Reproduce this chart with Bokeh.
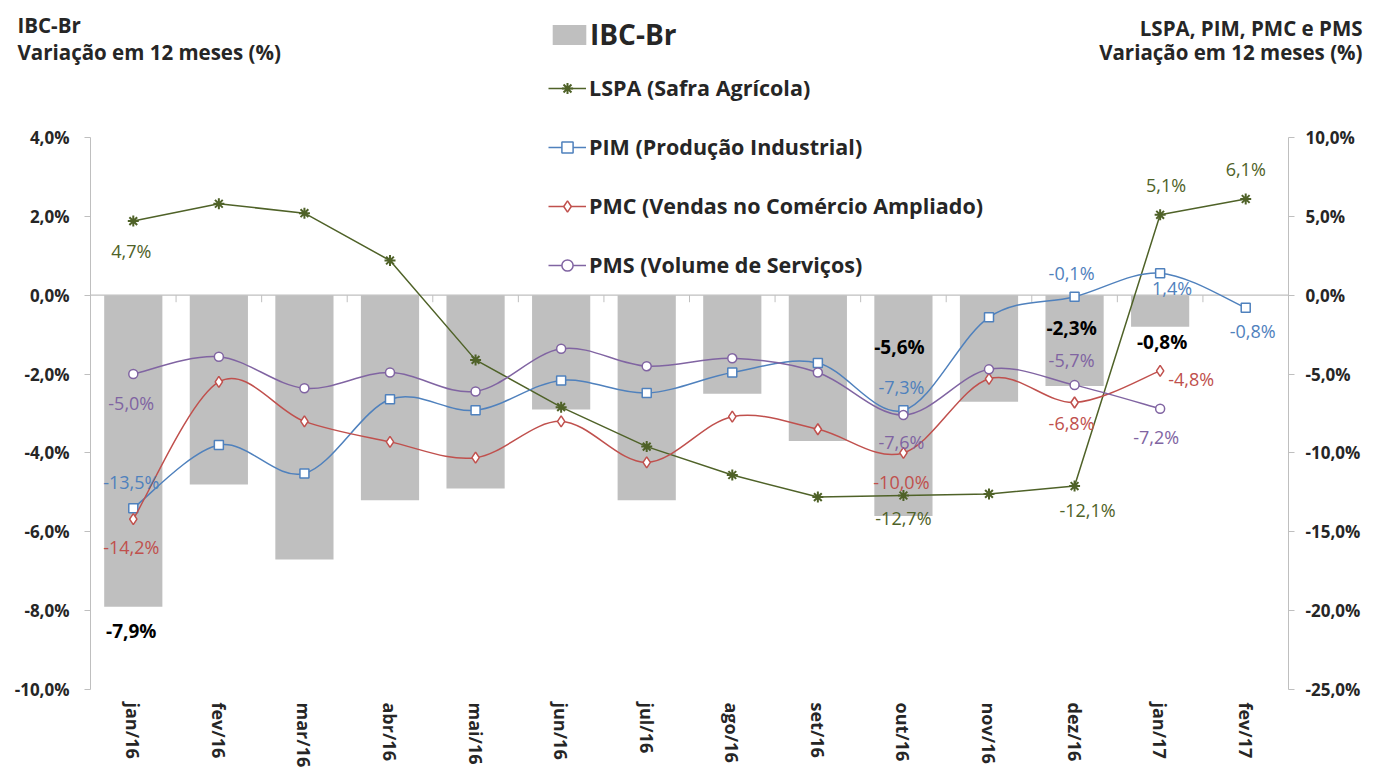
import math
from bokeh.plotting import figure
from bokeh.models import (Range1d, LinearAxis, FixedTicker, CustomJSTickFormatter,
                          Label, Legend, LegendItem, ColumnDataSource)
from bokeh.core.properties import value
from bokeh.embed import file_html
from bokeh.resources import INLINE

NaN = float("nan")

# ---------------- data ----------------
months = ["jan/16", "fev/16", "mar/16", "abr/16", "mai/16", "jun/16", "jul/16",
          "ago/16", "set/16", "out/16", "nov/16", "dez/16", "jan/17", "fev/17"]
ibc_br = [-7.9, -4.8, -6.7, -5.2, -4.9, -2.9, -5.2, -2.5, -3.7, -5.6, -2.7, -2.3, -0.8, NaN]
lspa = [4.7, 5.8, 5.2, 2.2, -4.1, -7.1, -9.6, -11.4, -12.8, -12.7, -12.6, -12.1, 5.1, 6.1]
pim = [-13.5, -9.5, -11.3, -6.6, -7.3, -5.4, -6.2, -4.9, -4.3, -7.3, -1.4, -0.1, 1.4, -0.8]
pmc = [-14.2, -5.5, -8.0, -9.3, -10.3, -8.0, -10.6, -7.7, -8.5, -10.0, -5.3, -6.8, -4.8, NaN]
pms = [-5.0, -3.9, -5.9, -4.9, -6.1, -3.4, -4.5, -4.0, -4.9, -7.6, -4.7, -5.7, -7.2, NaN]
left_ticks = [-10, -8, -6, -4, -2, 0, 2, 4]
right_ticks = [-25, -20, -15, -10, -5, 0, 5, 10]

# ---------------- style / layout ----------------
FONT = "Open Sans"
C_BAR = "#BFBFBF"
C_LSPA = "#4F6228"
C_PIM = "#4F81BD"
C_PMC = "#C0504D"
C_PMS = "#8064A2"
C_TXT = "#262626"
C_AX = "#BFBFBF"

W, H = 1365, 768
# pixel box of the drawn axes inside the canvas (the frame itself covers the whole canvas)
AX_L, AX_R, AX_T, AX_B = 90, 1288, 137, 689
n = len(months)
xs = list(range(1, n + 1))
PX_X = (AX_R - AX_L) / n
L_LO, L_HI = left_ticks[0], left_ticks[-1]
R_LO, R_HI = right_ticks[0], right_ticks[-1]
PX_L = (AX_B - AX_T) / (L_HI - L_LO)
PX_R = (AX_B - AX_T) / (R_HI - R_LO)

def px_x(px):   # canvas x pixel -> category coordinate
    return 0.5 + (px - AX_L) / PX_X

def px_y(py):   # canvas y pixel -> left-axis value
    return L_HI + (AX_T - py) / PX_L

p = figure(width=W, height=H, output_backend="svg", toolbar_location=None,
           x_range=Range1d(px_x(0), px_x(W)),
           y_range=Range1d(L_LO - (H - AX_B) / PX_L, L_HI + AX_T / PX_L),
           min_border=0, x_axis_location=None, y_axis_location=None)
p.extra_y_ranges = {"right": Range1d(R_LO - (H - AX_B) / PX_R, R_HI + AX_T / PX_R)}
p.outline_line_color = None
p.xgrid.visible = False
p.ygrid.visible = False
p.background_fill_color = "white"
p.border_fill_color = "white"

pct = CustomJSTickFormatter(code="return tick.toFixed(1).replace('.', ',') + '%';")

def style_y(ax):
    ax.axis_line_color = C_AX
    ax.major_tick_line_color = C_AX
    ax.major_tick_out = 6
    ax.major_tick_in = 0
    ax.minor_tick_line_color = None
    ax.major_label_text_font = FONT
    ax.major_label_text_font_style = "bold"
    ax.major_label_text_font_size = "17px"
    ax.major_label_text_color = C_TXT
    ax.formatter = pct

ly = LinearAxis(ticker=FixedTicker(ticks=left_ticks), bounds=(L_LO, L_HI),
                fixed_location=0.5)
style_y(ly)
ly.major_label_standoff = 15
p.add_layout(ly, "left")

ry = LinearAxis(y_range_name="right", ticker=FixedTicker(ticks=right_ticks),
                bounds=(R_LO, R_HI), fixed_location=n + 0.5)
style_y(ry)
ry.major_label_standoff = 11
p.add_layout(ry, "right")

xa = LinearAxis(ticker=FixedTicker(ticks=xs), fixed_location=L_LO,
                formatter=CustomJSTickFormatter(args=dict(labels=months),
                                                code="return labels[Math.round(tick) - 1];"))
xa.axis_line_color = None
xa.major_tick_line_color = None
xa.minor_tick_line_color = None
xa.major_label_orientation = -math.pi / 2
xa.major_label_text_font = FONT
xa.major_label_text_font_style = "bold"
xa.major_label_text_font_size = "18px"
xa.major_label_text_color = C_TXT
xa.major_label_standoff = 7
p.add_layout(xa, "below")

# bars
bars = p.vbar(x=xs, top=0, bottom=ibc_br, width=0.68, fill_color=C_BAR, line_color=None)
# zero line spanning the category axis, with small boundary ticks hanging from it
p.segment(x0=[xs[0] - 0.5], y0=[0], x1=[xs[-1] + 0.5], y1=[0], line_color=C_AX, line_width=1.2)
p.ray(x=[x + 0.5 for x in xs[:-1]], y=0, length=7, length_units="screen",
      angle=-math.pi / 2, line_color=C_AX, line_width=1)

# smooth-curve helper (Bezier segments through the data points)
def bezier_source(vals):
    pts = [(x, v) for x, v in zip(xs, vals) if not math.isnan(v)]
    m = len(pts)
    d = dict(x0=[], y0=[], x1=[], y1=[], cx0=[], cy0=[], cx1=[], cy1=[])
    for i in range(m - 1):
        pa = pts[i - 1] if i > 0 else pts[i]
        pb, pc = pts[i], pts[i + 1]
        pd = pts[i + 2] if i + 2 < m else pts[i + 1]
        d["x0"].append(pb[0]); d["y0"].append(pb[1])
        d["x1"].append(pc[0]); d["y1"].append(pc[1])
        d["cx0"].append(pb[0] + (pc[0] - pa[0]) / 6); d["cy0"].append(pb[1] + (pc[1] - pa[1]) / 6)
        d["cx1"].append(pc[0] - (pd[0] - pb[0]) / 6); d["cy1"].append(pc[1] - (pd[1] - pb[1]) / 6)
    return ColumnDataSource(d)

# LSPA: straight line with asterisks
lspa_line = p.line(xs, lspa, line_color=C_LSPA, line_width=1.5, y_range_name="right")
lspa_mk = p.scatter(xs, lspa, marker="asterisk", size=11, line_color=C_LSPA, line_width=2,
                    y_range_name="right")

smooth = []
for vals, col, mk in [(pim, C_PIM, "square"), (pmc, C_PMC, "diamond"), (pms, C_PMS, "circle")]:
    p.bezier(x0="x0", y0="y0", x1="x1", y1="y1", cx0="cx0", cy0="cy0", cx1="cx1", cy1="cy1",
             source=bezier_source(vals), line_color=col, line_width=1.5, y_range_name="right")
    # legend-only line sample (draws nothing in the plot)
    proxy = p.line(x=xs, y=[NaN] * n, line_color=col, line_width=1.5, y_range_name="right")
    sz = 9 if mk == "square" else (11 if mk == "diamond" else 9)
    mkr = p.scatter(xs, vals, marker=mk, size=sz, fill_color="white", line_color=col,
                    line_width=1.5, y_range_name="right")
    smooth.append((proxy, mkr))

# data labels: (series, index, dx, dy, color, range, bold, align)
def fmt(v):
    return ("%.1f" % v).replace(".", ",") + "%"

label_specs = [
    (lspa, 0, -2, 30, C_LSPA, "right", False, "center"),
    (lspa, 9, 0, 22, C_LSPA, "right", False, "center"),
    (lspa, 11, 13, 24, C_LSPA, "right", False, "center"),
    (lspa, 12, 6, -30, C_LSPA, "right", False, "center"),
    (lspa, 13, 0, -30, C_LSPA, "right", False, "center"),
    (pim, 0, -2, -26, C_PIM, "right", False, "center"),
    (pim, 9, -2, -23, C_PIM, "right", False, "center"),
    (pim, 11, -3, -24, C_PIM, "right", False, "center"),
    (pim, 12, 12, 15, C_PIM, "right", False, "center"),
    (pim, 13, 7, 23, C_PIM, "right", False, "center"),
    (pmc, 0, -2, 28, C_PMC, "right", False, "center"),
    (pmc, 9, -2, 29, C_PMC, "right", False, "center"),
    (pmc, 11, -3, 21, C_PMC, "right", False, "center"),
    (pmc, 12, 8, 8, C_PMC, "right", False, "left"),
    (pms, 0, -2, 29, C_PMS, "right", False, "center"),
    (pms, 9, -2, 27, C_PMS, "right", False, "center"),
    (pms, 11, -3, -25, C_PMS, "right", False, "center"),
    (pms, 12, -4, 28, C_PMS, "right", False, "center"),
    (ibc_br, 0, -2, 24, "#000000", "default", True, "center"),
    (ibc_br, 9, -4, -169, "#000000", "default", True, "center"),
    (ibc_br, 11, -3, -58, "#000000", "default", True, "center"),
    (ibc_br, 12, 2, 15, "#000000", "default", True, "center"),
]
for vals, i, dx, dy, col, rng, bold, align in label_specs:
    p.text(x=[xs[i]], y=[vals[i]], text=[fmt(vals[i])], x_offset=dx, y_offset=dy,
           text_align=align, text_baseline="middle", text_font=value(FONT),
           text_font_size="19px" if bold else "18px", text_color=col,
           text_font_style="bold" if bold else "normal", y_range_name=rng)

# legends (location = lower-left corner, in pixels from the canvas' lower-left)
leg1 = Legend(items=[LegendItem(label="IBC-Br", renderers=[bars])], location=(548, 715),
              orientation="vertical", padding=0, margin=0, border_line_alpha=0,
              background_fill_alpha=0, glyph_width=42, glyph_height=25, label_height=25,
              label_standoff=0, label_text_font=FONT, label_text_font_style="bold",
              label_text_font_size="28px", label_text_color=C_TXT)
leg2 = Legend(items=[
    LegendItem(label="LSPA (Safra Agrícola)", renderers=[lspa_line, lspa_mk]),
    LegendItem(label="PIM (Produção Industrial)", renderers=list(smooth[0])),
    LegendItem(label="PMC (Vendas no Comércio Ampliado)", renderers=list(smooth[1])),
    LegendItem(label="PMS (Volume de Serviços)", renderers=list(smooth[2])),
], location=(548, 489), orientation="vertical", padding=0, margin=0, border_line_alpha=0,
    background_fill_alpha=0, glyph_width=38, glyph_height=28, label_height=28, spacing=30,
    label_standoff=3, label_text_font=FONT, label_text_font_style="bold",
    label_text_font_size="21.5px", label_text_color=C_TXT)
p.add_layout(leg1, "center")
p.add_layout(leg2, "center")

# axis titles above each value axis
for txt, px, py, al in [("IBC-Br", 17, 24, "left"),
                        ("Variação em 12 meses (%)", 17, 51, "left"),
                        ("LSPA, PIM, PMC e PMS", 1362, 27, "right"),
                        ("Variação em 12 meses (%)", 1362, 51, "right")]:
    p.add_layout(Label(x=px_x(px), y=px_y(py), text=txt,
                       text_align=al, text_baseline="middle", text_font=FONT,
                       text_font_style="bold", text_font_size="20.5px", text_color=C_TXT))

open("out.html", "w").write(file_html(p, INLINE))
